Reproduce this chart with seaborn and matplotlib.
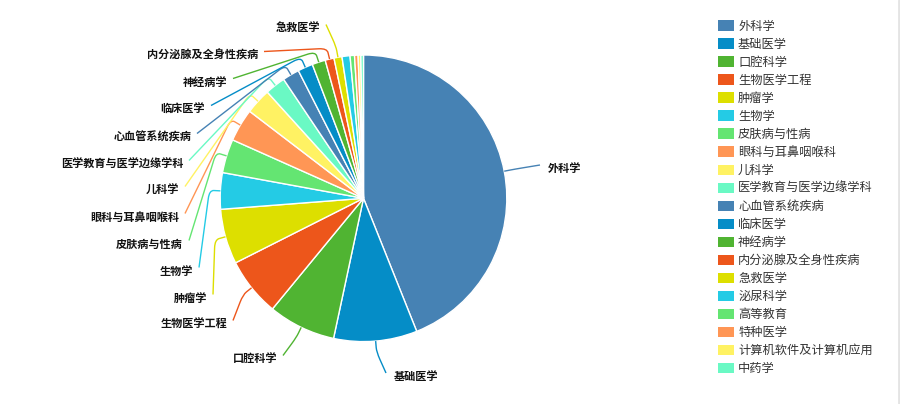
import numpy as np
import matplotlib
matplotlib.use('Agg')
import matplotlib.pyplot as plt
import seaborn as sns
from matplotlib.path import Path
from matplotlib.patches import PathPatch, Patch
from matplotlib.lines import Line2D

# ---------------- data ----------------
categories = ['外科学', '基础医学', '口腔科学', '生物医学工程', '肿瘤学', '生物学',
              '皮肤病与性病', '眼科与耳鼻咽喉科', '儿科学', '医学教育与医学边缘学科',
              '心血管系统疾病', '临床医学', '神经病学', '内分泌腺及全身性疾病', '急救医学',
              '泌尿科学', '高等教育', '特种医学', '计算机软件及计算机应用', '中药学']
values = [439, 94, 76, 66, 62, 41, 38, 37, 29, 23, 19, 17, 15, 10, 9, 9, 5, 4, 3, 3]
palette_hex = ['#4682B4', '#058DC7', '#50B432', '#ED561B', '#DDDF00',
               '#24CBE5', '#64E572', '#FF9655', '#FFF263', '#6AF9C4']
n_labeled = 15  # only the first 15 slices carry an outside label

# ---------------- layout (pixels) ----------------
W, H = 900, 404
CX, CY_PX, R = 363.5, 198.3, 143.3
label_layout = [  # (x, y, ha)  text anchor in pixel coordinates
    (548, 167, 'left'), (394, 375, 'left'), (277, 358, 'right'),
    (227, 323, 'right'), (207, 297, 'right'), (193, 270, 'right'),
    (183, 243, 'right'), (179, 216, 'right'), (179, 189, 'right'),
    (183, 163, 'right'), (191, 136, 'right'), (205, 108, 'right'),
    (227, 81, 'right'), (258, 54, 'right'), (320, 27, 'right'),
]

sns.set_theme(style='white')
plt.rcParams['font.family'] = ['Noto Sans CJK SC', 'DejaVu Sans']

fig = plt.figure(figsize=(W / 100, H / 100), dpi=100)
ax = fig.add_axes([0, 0, 1, 1])

colors = [palette_hex[i % len(palette_hex)] for i in range(len(values))]
cy = H - CY_PX
wedges, _ = ax.pie(values, colors=colors, startangle=90, counterclock=False,
                   center=(CX, cy), radius=R, frame=True,
                   wedgeprops=dict(edgecolor='white', linewidth=1.0))
ax.set_xlim(0, W)
ax.set_ylim(0, H)
ax.set_aspect('equal')
ax.axis('off')

# ---------------- labels with connector lines ----------------
vals = np.asarray(values, dtype=float)
cum = np.cumsum(vals)
total = vals.sum()
for i in range(n_labeled):
    theta = np.deg2rad(360.0 * (cum[i] - vals[i] / 2) / total)
    d = np.array([np.sin(theta), np.cos(theta)])
    c = np.array([CX, cy])
    p0 = c + R * d
    p1 = c + (R + 11) * d
    tx, ty, ha = label_layout[i]
    if ha == 'right':
        p2 = np.array([tx + 6, H - (ty - 2.5)])
    else:
        p2 = np.array([tx - 8, H - (ty - 2)])
    a = p1 + (p0 - p1) * 0.4
    v = p2 - p1
    L = np.hypot(*v)
    b = p1 + v * min(0.35, 8.0 / max(L, 1e-6))
    path = Path([p0, a, p1, b, p2],
                [Path.MOVETO, Path.LINETO, Path.CURVE3, Path.CURVE3, Path.LINETO])
    ax.add_patch(PathPatch(path, facecolor='none', edgecolor=colors[i], lw=1.0))
    ax.text(tx, H - ty, categories[i], ha=ha, va='center_baseline',
            fontsize=8.0, fontweight='bold', color='#111111')

# ---------------- legend ----------------
handles = [Patch(facecolor=colors[i], edgecolor='none') for i in range(len(values))]
leg = fig.legend(handles, categories, loc='upper left',
                 bbox_to_anchor=(713 / W, 1 - 15 / H), frameon=False,
                 fontsize=8.8, handlelength=1.35, handleheight=0.95,
                 handletextpad=0.3, labelspacing=0.41, borderaxespad=0)
for t in leg.get_texts():
    t.set_color('#333333')

# right border line
ax.add_line(Line2D([898.5, 898.5], [0, H], color='#e4e4e4', lw=2))

fig.savefig('out.png', dpi=100, facecolor='white')
